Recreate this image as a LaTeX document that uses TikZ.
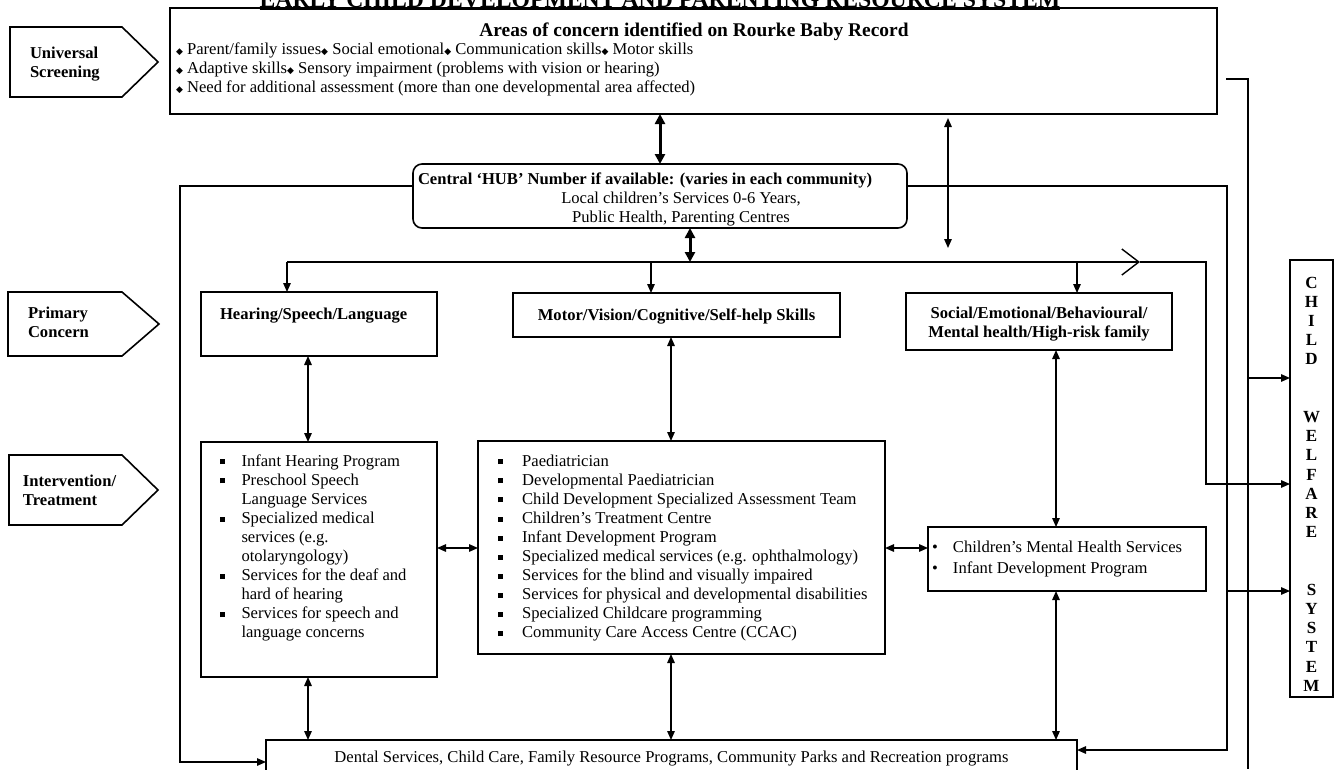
\documentclass[tikz,border=0pt]{standalone}
\usepackage{fontspec}
\setmainfont{Liberation Serif}
\newfontfamily\dejavu{DejaVu Sans}
\usetikzlibrary{arrows.meta}
\newcommand{\bodyf}{\fontsize{16.6}{19.1}\selectfont}
\newcommand{\dmd}{{\dejavu\fontsize{9}{9}\selectfont ◆}\ }
\newcommand{\sqb}[1][22pt]{\makebox[#1][l]{\rule[1.8pt]{5pt}{5pt}}}
\newcommand{\ind}[1][22pt]{\hspace*{#1}}
\newcommand{\rdb}{\makebox[21pt][l]{•}}
\tikzset{
  bx/.style={draw, line width=1.6pt, inner sep=0pt, outer sep=0pt, anchor=north west},
  txt/.style={inner sep=0pt, outer sep=0pt, font=\bodyf},
  btxt/.style={inner sep=0pt, outer sep=0pt, font=\bfseries\bodyf},
  cn/.style={line width=1.4pt},
  tip/.style={-{Triangle[length=9pt,width=7.5pt]}},
  dtip/.style={{Triangle[length=9pt,width=7.5pt]}-{Triangle[length=9pt,width=7.5pt]}},
  thk/.style={line width=3pt, {Triangle[length=10pt,width=10pt]}-{Triangle[length=10pt,width=10pt]}},
  pent/.style={draw, line width=1.6pt},
}
\begin{document}
\begin{tikzpicture}[x=1pt,y=-1pt]
\fill[white] (0,0) rectangle (1336,769);
\useasboundingbox (0,0) rectangle (1336,769);

% title
\node[inner sep=0pt, anchor=base, font=\bfseries\fontsize{23.7}{24}\selectfont] (title) at (660,7) {\underline{EARLY CHILD DEVELOPMENT AND PARENTING RESOURCE SYSTEM}};

% top box
\node[bx, minimum width=1047pt, minimum height=106pt] (topbox) at (170,8) {};
\node[inner sep=0pt, anchor=base, font=\bfseries\fontsize{19.4}{22}\selectfont] (tophead) at (694,36) {Areas of concern identified on Rourke Baby Record};
\node[txt, anchor=base west] (toplines) at (176,54) {\begin{tabular}[t]{@{}l@{}}
\dmd Parent/family issues\dmd Social emotional\dmd Communication skills\dmd Motor skills\\
\dmd Adaptive skills\dmd Sensory impairment (problems with vision or hearing)\\
\dmd Need for additional assessment (more than one developmental area affected)
\end{tabular}};

% left labels
\draw[pent] (10,27) -- (122,27) -- (158,62) -- (122,97) -- (10,97) -- cycle;
\node[btxt, anchor=base west] (lab1) at (30,58) {\begin{tabular}[t]{@{}l@{}}Universal\\Screening\end{tabular}};
\draw[pent] (8,292) -- (122,292) -- (159,324) -- (122,356) -- (8,356) -- cycle;
\node[btxt, anchor=base west] (lab2) at (28,318) {\begin{tabular}[t]{@{}l@{}}Primary\\Concern\end{tabular}};
\draw[pent] (9,455) -- (122,455) -- (158,490) -- (122,525) -- (9,525) -- cycle;
\node[btxt, anchor=base west] (lab3) at (23,486) {\begin{tabular}[t]{@{}l@{}}Intervention/\\Treatment\end{tabular}};

% hub
\node[bx, rounded corners=9pt, minimum width=494pt, minimum height=64pt] (hub) at (413,164) {};
\node[btxt, anchor=base west] (hub1) at (418,184) {Central ‘HUB’ Number if available: (varies in each community)};
\node[txt, anchor=base] (hub2) at (681,203.5) {\begin{tabular}[t]{@{}c@{}}Local children’s Services 0-6 Years,\\ Public Health, Parenting Centres\end{tabular}};

% primary concern boxes
\node[bx, minimum width=236pt, minimum height=64pt] (hear) at (201,292) {};
\node[btxt, anchor=base west] (heart) at (220,319) {Hearing/Speech/Language};
\node[bx, minimum width=327pt, minimum height=44pt] (motor) at (513,293) {};
\node[btxt, anchor=base] (motort) at (676.5,320) {Motor/Vision/Cognitive/Self-help Skills};
\node[bx, minimum width=266pt, minimum height=57pt] (social) at (906,293) {};
\node[btxt, anchor=base] (socialt) at (1039,318) {\begin{tabular}[t]{@{}c@{}}Social/Emotional/Behavioural/\\Mental health/High-risk family\end{tabular}};

% intervention boxes
\node[bx, minimum width=236pt, minimum height=235pt] (hearlist) at (201,442) {};
\node[txt, anchor=base west] (hearlistt) at (219.5,466) {\begin{tabular}[t]{@{}l@{}}
\sqb Infant Hearing Program\\
\sqb Preschool Speech\\
\ind Language Services\\
\sqb Specialized medical\\
\ind services (e.g.\\
\ind otolaryngology)\\
\sqb Services for the deaf and\\
\ind hard of hearing\\
\sqb Services for speech and\\
\ind language concerns
\end{tabular}};

\node[bx, minimum width=407pt, minimum height=213pt] (motorlist) at (478,441) {};
\node[txt, anchor=base west] (motorlistt) at (497.5,466) {\begin{tabular}[t]{@{}l@{}}
\sqb[20.5pt] Paediatrician\\
\sqb[20.5pt] Developmental Paediatrician\\
\sqb[20.5pt] Child Development Specialized Assessment Team\\
\sqb[20.5pt] Children’s Treatment Centre\\
\sqb[20.5pt] Infant Development Program\\
\sqb[20.5pt] Specialized medical services (e.g. ophthalmology)\\
\sqb[20.5pt] Services for the blind and visually impaired\\
\sqb[20.5pt] Services for physical and developmental disabilities\\
\sqb[20.5pt] Specialized Childcare programming\\
\sqb[20.5pt] Community Care Access Centre (CCAC)
\end{tabular}};

\node[bx, minimum width=278pt, minimum height=64pt] (mental) at (928,527) {};
\node[inner sep=0pt, outer sep=0pt, anchor=base west, font=\fontsize{16.6}{21}\selectfont] (mentalt) at (932,552) {\begin{tabular}[t]{@{}l@{}}
\rdb Children’s Mental Health Services\\
\rdb Infant Development Program
\end{tabular}};

% dental
\node[bx, minimum width=811pt, minimum height=80pt] (dental) at (266,740) {};
\node[txt, anchor=base] (dentalt) at (671.5,762) {Dental Services, Child Care, Family Resource Programs, Community Parks and Recreation programs};

% child welfare system
\node[bx, minimum width=43pt, minimum height=437pt] (cw) at (1290,260) {};
\node[inner sep=0pt, anchor=base, font=\bfseries\fontsize{17}{19.2}\selectfont] (cwt) at (1311.5,288) {\begin{tabular}[t]{@{}c@{}}
C\\H\\I\\L\\D\\ \\ \\W\\E\\L\\F\\A\\R\\E\\ \\ \\S\\Y\\S\\T\\E\\M
\end{tabular}};

% coordinates
\coordinate (brL) at (287,262);
\coordinate (brR) at (1140,262);
\coordinate (brM) at (651,262);
\coordinate (brS) at (1077,262);
\coordinate (brHub) at (690,262);
\coordinate (a948) at (948,248);
\coordinate (j591) at (1227,591);
\coordinate (stub) at (1226,79);
\coordinate (j378) at (1248,378);
\coordinate (bot) at (1248,769);

% connectors
\draw[thk] (660,0 |- topbox.south) -- (660,0 |- hub.north);
\draw[cn,dtip,shorten <=4pt] (948,0 |- topbox.south) -- (a948);
\draw[thk] (690,0 |- hub.south) -- (brHub);
\draw[cn,-{Straight Barb[length=17pt,width=26pt]}] (brL) -- (brR);
\draw[cn,tip] (brR) -- (1206,262) |- (cw.west |- 0,484);
\draw[cn,tip] (brL) -- (brL |- hear.north);
\draw[cn,tip] (brM) -- (brM |- motor.north);
\draw[cn,tip] (brS) -- (brS |- social.north);

\draw[cn,dtip] (308,0 |- hear.south) -- (308,0 |- hearlist.north);
\draw[cn,dtip] (671,0 |- motor.south) -- (671,0 |- motorlist.north);
\draw[cn,dtip] (1056,0 |- social.south) -- (1056,0 |- mental.north);
\draw[cn,dtip] (hearlist.east |- 0,548) -- (motorlist.west |- 0,548);
\draw[cn,dtip] (motorlist.east |- 0,548) -- (mental.west |- 0,548);
\draw[cn,dtip] (308,0 |- hearlist.south) -- (308,0 |- dental.north);
\draw[cn,dtip] (671,0 |- motorlist.south) -- (671,0 |- dental.north);
\draw[cn,dtip] (1056,0 |- mental.south) -- (1056,0 |- dental.north);

\draw[cn,tip] (hub.west |- 0,186) -| (180,762) -- (dental.west |- 0,762);
\draw[cn,tip] (hub.east |- 0,186) -| (1227,750) -- (dental.east |- 0,750);
\draw[cn,tip] (j591) -- (cw.west |- j591);
\draw[cn] (stub) -- (1248,79) -- (bot);
\draw[cn,tip] (j378) -- (cw.west |- j378);
\end{tikzpicture}
\end{document}
